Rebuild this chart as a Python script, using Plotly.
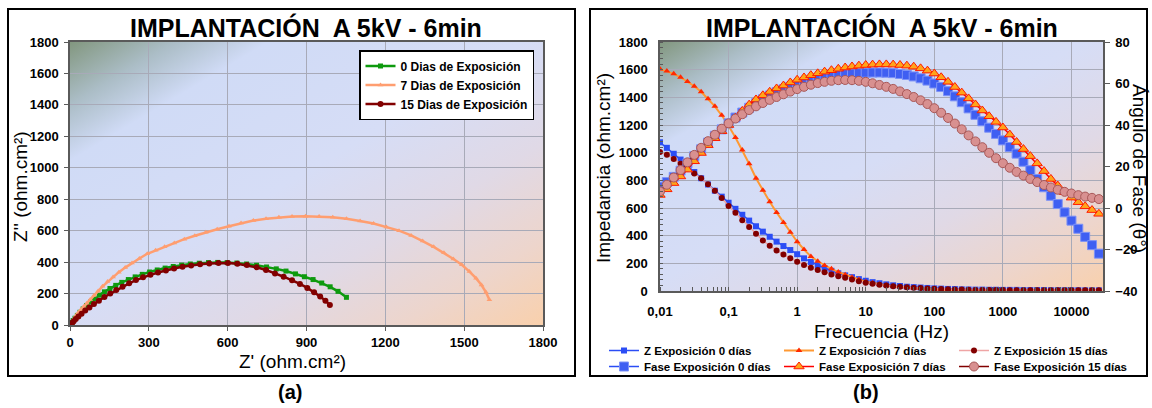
import base64
import plotly.graph_objects as go

W, H = 1152, 408
FONT = "Liberation Sans, Arial, sans-serif"

# ---------------- Nyquist data (Z', Z'') ----------------
nyq_0_dias = [(1052, 176), (1020, 214), (990, 243), (958, 267), (925, 289), (892, 307), (858, 325),
              (822, 343), (785, 357), (748, 369), (710, 380), (672, 388), (635, 394), (598, 397),
              (562, 398), (527, 397), (492, 393), (458, 388), (425, 381), (393, 372), (362, 362),
              (332, 350), (303, 337), (275, 322), (248, 306), (222, 289), (197, 271), (174, 252),
              (152, 232), (131, 211), (112, 190), (94, 168), (78, 146), (63, 124), (50, 102),
              (38, 81), (28, 61), (19, 43), (12, 28), (7, 16), (4, 8), (2, 3)]
nyq_7_dias = [(1596, 160), (1583, 208), (1566, 254), (1545, 298), (1520, 340), (1491, 383),
              (1459, 420), (1423, 459), (1384, 497), (1342, 534), (1298, 570), (1252, 600),
              (1204, 624), (1155, 645), (1104, 662), (1052, 676), (1000, 685), (948, 690),
              (896, 692), (845, 690), (795, 685), (746, 676), (698, 664), (651, 648), (605, 628),
              (560, 609), (517, 590), (475, 568), (435, 546), (397, 522), (360, 498), (326, 475),
              (294, 453), (264, 423), (236, 394), (210, 365), (186, 336), (164, 306), (143, 277),
              (124, 246), (107, 216), (91, 188), (77, 162), (64, 139), (52, 118), (41, 97),
              (31, 78), (22, 58), (15, 40), (9, 25), (5, 13), (2, 5)]
nyq_15_dias = [(989, 127), (972, 155), (952, 181), (929, 208), (903, 236), (875, 261), (845, 284),
               (813, 307), (780, 328), (746, 350), (710, 367), (673, 381), (637, 390), (601, 394),
               (565, 394), (530, 391), (495, 386), (461, 379), (428, 370), (396, 359), (365, 347),
               (335, 334), (306, 319), (278, 303), (251, 286), (225, 265), (200, 243), (176, 222),
               (153, 200), (131, 178), (110, 155), (91, 133), (74, 112), (58, 92), (44, 72),
               (32, 54), (22, 38), (14, 24), (8, 13), (4, 6), (2, 2)]

# ---------------- Bode data ----------------
frecuencia = [0.01, 0.01259, 0.01585, 0.01995, 0.02512, 0.03162, 0.03981, 0.05012, 0.0631, 0.07943,
              0.1, 0.1259, 0.1585, 0.1995, 0.2512, 0.3162, 0.3981, 0.5012, 0.631, 0.7943,
              1, 1.259, 1.585, 1.995, 2.512, 3.162, 3.981, 5.012, 6.31, 7.943,
              10, 12.59, 15.85, 19.95, 25.12, 31.62, 39.81, 50.12, 63.1, 79.43,
              100, 125.9, 158.5, 199.5, 251.2, 316.2, 398.1, 501.2, 631, 794.3,
              1000, 1259, 1585, 1995, 2512, 3162, 3981, 5012, 6310, 7943,
              10000, 12590, 15850, 19950, 25120]

z_0_dias = [1075, 1035, 992, 950, 905, 860, 815, 770, 725, 682,
            638, 594, 551, 509, 468, 429, 392, 357, 325, 296,
            266, 236, 210, 187, 166, 146, 128, 113, 100, 86,
            74, 64, 56, 48, 41, 36, 31, 28, 25, 22,
            19, 17, 15, 14, 12, 11, 10, 10, 9, 9,
            8, 8, 8, 7, 7, 7, 7, 6, 6, 6,
            6, 6, 5, 5, 5]
z_7_dias = [1605, 1590, 1570, 1545, 1515, 1480, 1440, 1390, 1335, 1270,
            1195, 1110, 1020, 920, 815, 728, 645, 568, 495, 425,
            356, 300, 250, 215, 185, 160, 137, 118, 100, 83,
            67, 57, 48, 41, 35, 30, 25, 21, 18, 15,
            13, 11, 10, 9, 8, 8, 7, 7, 6, 6,
            6, 5, 5, 5, 5, 5, 4, 4, 4, 4,
            4, 4, 4, 4, 4]
z_15_dias = [1005, 985, 955, 920, 885, 850, 815, 772, 725, 672,
             615, 565, 512, 462, 413, 365, 327, 293, 263, 237,
             212, 188, 168, 151, 135, 120, 107, 95, 83, 71,
             60, 52, 45, 39, 34, 31, 27, 24, 21, 18,
             16, 14, 12, 11, 10, 9, 8, 8, 7, 7,
             7, 6, 6, 6, 6, 5, 5, 5, 5, 5,
             5, 5, 5, 5, 5]

fase_0_dias = [10.3, 12.5, 15.0, 18.0, 21.5, 25.0, 28.3, 31.5, 34.8, 37.9,
               40.8, 43.6, 46.0, 48.3, 50.5, 52.4, 54.2, 55.8, 57.2, 58.4,
               59.4, 60.4, 61.4, 62.3, 63.0, 63.6, 64.1, 64.5, 64.8, 65.0,
               65.2, 65.3, 65.3, 65.2, 65.0, 64.6, 64.1, 63.4, 62.5, 61.4,
               60.0, 58.3, 56.3, 53.8, 51.0, 48.0, 44.9, 41.8, 38.7, 35.7,
               32.6, 29.4, 26.2, 22.3, 18.2, 14.0, 10.0, 5.9, 1.9, -2.1,
               -6.1, -10.0, -13.9, -17.9, -22.0]
fase_7_dias = [6.3, 9.0, 12.0, 15.2, 18.5, 22.5, 26.5, 30.3, 33.6, 37.0,
               40.0, 43.5, 46.8, 49.8, 52.3, 54.3, 56.0, 57.6, 59.0, 60.5,
               61.8, 62.9, 64.0, 64.9, 65.7, 66.4, 67.1, 67.7, 68.2, 68.6,
               68.9, 69.1, 69.2, 69.2, 69.1, 68.9, 68.6, 68.1, 67.3, 66.2,
               64.8, 63.0, 60.8, 58.3, 55.6, 52.8, 49.9, 47.0, 44.2, 41.5,
               38.8, 35.4, 31.8, 28.4, 25.0, 21.5, 17.8, 14.0, 10.8, 7.6,
               5.0, 2.8, 0.8, -1.0, -2.8]
fase_15_dias = [8.0, 11.2, 14.7, 18.3, 22.0, 25.6, 29.0, 32.2, 35.3, 38.2,
                40.8, 43.1, 45.2, 47.2, 49.0, 50.6, 52.1, 53.5, 54.8, 56.1,
                57.3, 58.4, 59.4, 60.2, 60.8, 61.3, 61.6, 61.7, 61.6, 61.3,
                60.8, 60.1, 59.3, 58.4, 57.4, 56.2, 54.9, 53.5, 51.9, 50.1,
                48.1, 45.9, 43.4, 40.7, 37.9, 35.0, 32.1, 29.3, 26.6, 24.0,
                21.6, 19.4, 17.4, 15.6, 14.0, 12.5, 11.1, 9.9, 8.8, 7.8,
                7.0, 6.2, 5.5, 4.9, 4.3]

x_ticks_nyq = [0, 300, 600, 900, 1200, 1500, 1800]
y_ticks_nyq = [0, 200, 400, 600, 800, 1000, 1200, 1400, 1600, 1800]
f_tickvals = [0.01, 0.1, 1, 10, 100, 1000, 10000]
f_ticktext = ["0,01", "0,1", "1", "10", "100", "1000", "10000"]
fase_ticks = [-40, -20, 0, 20, 40, 60, 80]

titulo = "IMPLANTACIÓN  A 5kV - 6min"

# ---------------- gradient background ----------------
svg = ('<svg xmlns="http://www.w3.org/2000/svg" width="400" height="250" viewBox="0 0 400 250" '
       'preserveAspectRatio="none"><defs><linearGradient id="g" x1="0" y1="0" x2="1" y2="1">'
       '<stop offset="0" stop-color="#82977F"/>'
       '<stop offset="0.11" stop-color="#ABBDC6"/>'
       '<stop offset="0.21" stop-color="#D0DBF6"/>'
       '<stop offset="0.48" stop-color="#D6DDF6"/>'
       '<stop offset="0.68" stop-color="#E0D9E6"/>'
       '<stop offset="0.85" stop-color="#EDD5CC"/>'
       '<stop offset="1" stop-color="#F9D0AC"/>'
       '</linearGradient></defs><rect width="400" height="250" fill="url(#g)"/></svg>')
bg_uri = "data:image/svg+xml;base64," + base64.b64encode(svg.encode()).decode()

fig = go.Figure()

# Nyquist traces
for pts, name, col, sym, sz in [
    (nyq_0_dias, "0 Dias de Exposición", "#0E9A0E", "square", 5),
    (nyq_7_dias, "7 Dias de Exposición", "#FF9E70", "triangle-up", 5),
    (nyq_15_dias, "15 Dias de Exposición", "#820000", "circle", 6),
]:
    fig.add_trace(go.Scatter(
        x=[p[0] for p in pts], y=[p[1] for p in pts], name=name, mode="lines+markers",
        line=dict(color=col, width=2.5), marker=dict(symbol=sym, size=sz, color=col),
        xaxis="x", yaxis="y", legend="legend"))

# Bode traces
fig.add_trace(go.Scatter(x=frecuencia, y=z_0_dias, name="Z Exposición 0 días", mode="lines+markers",
                         line=dict(color="#2B4DF5", width=1.5),
                         marker=dict(symbol="square", size=6, color="#2B4DF5"),
                         xaxis="x2", yaxis="y2", legend="legend2"))
fig.add_trace(go.Scatter(x=frecuencia, y=z_7_dias, name="Z Exposición 7 días", mode="lines+markers",
                         line=dict(color="#FF9933", width=2),
                         marker=dict(symbol="triangle-up", size=6, color="#FF2A00"),
                         xaxis="x2", yaxis="y2", legend="legend2"))
fig.add_trace(go.Scatter(x=frecuencia, y=z_15_dias, name="Z Exposición 15 días", mode="lines+markers",
                         line=dict(color="#EFA5A5", width=1.5),
                         marker=dict(symbol="circle", size=6, color="#820000"),
                         xaxis="x2", yaxis="y2", legend="legend2"))
fig.add_trace(go.Scatter(x=frecuencia, y=fase_0_dias, name="Fase Exposición 0 días", mode="lines+markers",
                         line=dict(color="#2B4DF5", width=1.5),
                         marker=dict(symbol="square", size=9, color="#3F5FF2",
                                     line=dict(color="#7D92F7", width=1)),
                         xaxis="x2", yaxis="y3", legend="legend3"))
fig.add_trace(go.Scatter(x=frecuencia, y=fase_7_dias, name="Fase Exposición 7 días", mode="lines+markers",
                         line=dict(color="#FF0000", width=1.5),
                         marker=dict(symbol="triangle-up", size=9, color="#FFA41A",
                                     line=dict(color="#FF1A00", width=1)),
                         xaxis="x2", yaxis="y3", legend="legend3"))
fig.add_trace(go.Scatter(x=frecuencia, y=fase_15_dias, name="Fase Exposición 15 días", mode="lines+markers",
                         line=dict(color="#820000", width=1.5),
                         marker=dict(symbol="circle", size=9, color="#D89090",
                                     line=dict(color="#A85858", width=1)),
                         xaxis="x2", yaxis="y3", legend="legend3"))

tickfont = dict(family=FONT, size=13, color="black", weight="bold")
grid = "#A8AAB8"
axline = "#5A5A5A"
legfont = dict(family=FONT, size=12, color="black", weight="bold")
legfont_b = dict(family=FONT, size=11.5, color="black", weight="bold")

L_x0, L_x1, L_yt, L_yb = 70, 543, 42, 325
R_x0, R_x1, R_yt, R_yb = 660, 1103, 42, 291

fig.update_layout(
    width=W, height=H, autosize=False, margin=dict(l=0, r=0, t=0, b=0, pad=0, autoexpand=False),
    paper_bgcolor="white", plot_bgcolor="rgba(0,0,0,0)",
    font=dict(family=FONT, color="black"),
    xaxis=dict(domain=[L_x0 / W, L_x1 / W], anchor="y", range=[0, 1800], tickvals=x_ticks_nyq,
               showgrid=True, gridcolor=grid, gridwidth=1, showline=True, linecolor=axline, linewidth=1.5,
               mirror=True, ticks="outside", ticklen=4, tickcolor=axline, tickfont=tickfont, zeroline=False,
               ticklabelstandoff=1),
    yaxis=dict(domain=[1 - L_yb / H, 1 - L_yt / H], anchor="x", range=[0, 1800], tickvals=y_ticks_nyq,
               showgrid=True, gridcolor=grid, gridwidth=1, showline=True, linecolor=axline, linewidth=1.5,
               mirror=True, ticks="outside", ticklen=4, tickcolor=axline, tickfont=tickfont, zeroline=False,
               ticklabelstandoff=3),
    xaxis2=dict(domain=[R_x0 / W, R_x1 / W], anchor="y2", type="log", range=[-2, 4.46],
                tickvals=f_tickvals, ticktext=f_ticktext, showgrid=True, gridcolor=grid, gridwidth=1,
                showline=True, linecolor=axline, linewidth=1.5, mirror=True, ticks="", tickfont=tickfont,
                minor=dict(ticks="inside", ticklen=4, tickcolor=axline, showgrid=False, dtick="D1"),
                zeroline=False, ticklabelstandoff=8),
    yaxis2=dict(domain=[1 - R_yb / H, 1 - R_yt / H], anchor="x2", range=[0, 1800], tickvals=y_ticks_nyq,
                showgrid=True, gridcolor=grid, gridwidth=1, showline=True, linecolor=axline, linewidth=1.5,
                ticks="", tickfont=tickfont, zeroline=False, ticklabelstandoff=8,
                minor=dict(ticks="inside", ticklen=3, tickcolor=axline, dtick=40, showgrid=False)),
    yaxis3=dict(overlaying="y2", anchor="x2", side="right", range=[-40, 80], tickvals=fase_ticks,
                showgrid=False, showline=True, linecolor=axline, linewidth=1.5, ticks="outside",
                ticklen=5, tickcolor=axline, tickfont=tickfont, zeroline=False, ticklabelstandoff=3),
    legend=dict(xref="paper", yref="paper", x=534 / W, y=1 - 50 / H, xanchor="right", yanchor="top",
                orientation="v", bgcolor="white", bordercolor="black", borderwidth=1.5, font=legfont),
    legend2=dict(xref="paper", yref="paper", orientation="h", x=604 / W, y=1 - 336 / H,
                 xanchor="left", yanchor="top", bgcolor="rgba(0,0,0,0)", font=legfont_b, entrywidth=130),
    legend3=dict(xref="paper", yref="paper", orientation="h", x=604 / W, y=1 - 352 / H,
                 xanchor="left", yanchor="top", bgcolor="rgba(0,0,0,0)", font=legfont_b, entrywidth=130),
    images=[
        dict(source=bg_uri, xref="x domain", yref="y domain", x=0, y=1, sizex=1, sizey=1,
             xanchor="left", yanchor="top", sizing="stretch", layer="below"),
        dict(source=bg_uri, xref="x2 domain", yref="y2 domain", x=0, y=1, sizex=1, sizey=1,
             xanchor="left", yanchor="top", sizing="stretch", layer="below"),
    ],
    shapes=[
        dict(type="rect", xref="paper", yref="paper", x0=8 / W, x1=575 / W, y0=1 - 376 / H, y1=1 - 9 / H,
             line=dict(color="black", width=2)),
        dict(type="rect", xref="paper", yref="paper", x0=590 / W, x1=1147 / W, y0=1 - 376 / H, y1=1 - 9 / H,
             line=dict(color="black", width=2)),
    ],
)

def ann(text, x, y, size, bold=False, angle=0):
    fig.add_annotation(text=text, x=x / W, y=1 - y / H, xref="paper", yref="paper", showarrow=False,
                       xanchor="center", yanchor="middle", textangle=angle,
                       font=dict(family=FONT, size=size, color="black", weight="bold" if bold else "normal"))

ann(titulo, 306, 28, 25, bold=True)
ann(titulo, (R_x0 + R_x1) / 2, 28, 25, bold=True)
ann("Z'' (ohm.cm²)", 21, 187, 19, angle=-90)
ann("Z' (ohm.cm²)", 292, 361, 19)
ann("Impedancia (ohm.cm²)", 603, 168, 19, angle=-90)
ann("Ángulo de Fase (θ°)", 1140, 168, 19, angle=90)
ann("Frecuencia (Hz)", 881, 331, 19)
ann("(a)", 290, 392, 20, bold=True)
ann("(b)", 866, 392, 20, bold=True)

fig.write_html("out.html")
